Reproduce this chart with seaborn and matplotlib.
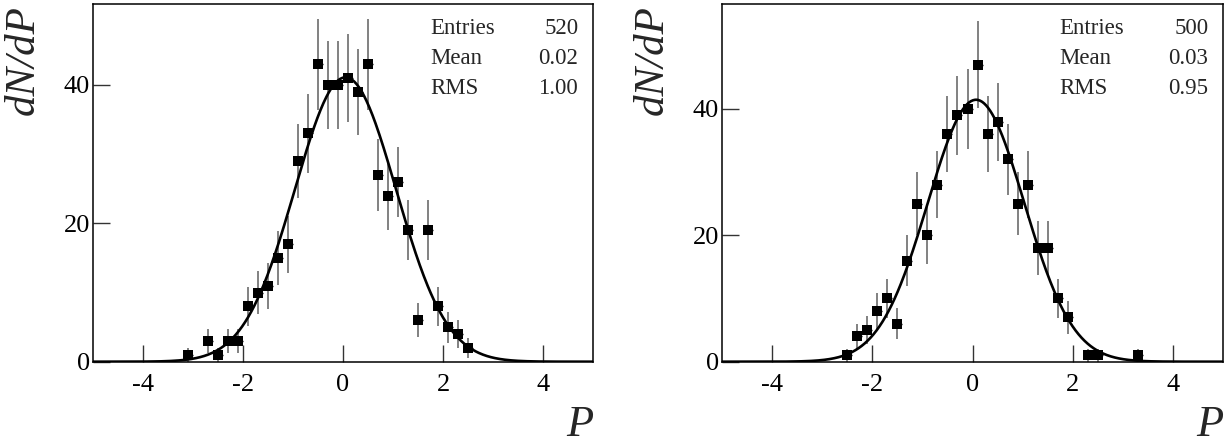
import numpy as np
import pandas as pd
import matplotlib
matplotlib.use("Agg")
import matplotlib.pyplot as plt
import seaborn as sns

left_x = [-3.1, -2.7, -2.5, -2.3, -2.1, -1.9, -1.7, -1.5, -1.3, -1.1, -0.9, -0.7, -0.5, -0.3,
          -0.1, 0.1, 0.3, 0.5, 0.7, 0.9, 1.1, 1.3, 1.5, 1.7, 1.9, 2.1, 2.3, 2.5]
left_n = [1, 3, 1, 3, 3, 8, 10, 11, 15, 17, 29, 33, 43, 40,
          40, 41, 39, 43, 27, 24, 26, 19, 6, 19, 8, 5, 4, 2]

right_x = [-2.5, -2.3, -2.1, -1.9, -1.7, -1.5, -1.3, -1.1, -0.9, -0.7, -0.5, -0.3, -0.1,
           0.1, 0.3, 0.5, 0.7, 0.9, 1.1, 1.3, 1.5, 1.7, 1.9, 2.3, 2.5, 3.3]
right_n = [1, 4, 5, 8, 10, 6, 16, 25, 20, 28, 36, 39, 40,
           47, 36, 38, 32, 25, 28, 18, 18, 10, 7, 1, 1, 1]

# parametros do ajuste gaussiano (constante, media, sigma)
left_fit = (41.1, 0.05, 1.01)
right_fit = (41.45, 0.07, 0.962)

left_stats = [("Entries", "520"), ("Mean", "0.02"), ("RMS", "1.00")]
right_stats = [("Entries", "500"), ("Mean", "0.03"), ("RMS", "0.95")]

x_ticks = [-4, -2, 0, 2, 4]
y_ticks = [0, 20, 40]
left_ymax = 51.7
right_ymax = 56.6

sns.set_theme(style="ticks")
plt.rcParams['font.family'] = ['Liberation Serif', 'DejaVu Serif']
plt.rcParams['axes.unicode_minus'] = False


def desenhar_painel(ax, xs, ns, fit, stats, ymax):
    df = pd.DataFrame({'P': xs, 'N': ns})
    df['err'] = np.sqrt(df['N'])

    # curva do ajuste
    grade = np.linspace(-5, 5, 500)
    const, media, sigma = fit
    curva = pd.DataFrame({'P': grade, 'f': const * np.exp(-0.5 * ((grade - media) / sigma) ** 2)})

    ax.errorbar(df['P'], df['N'], yerr=df['err'], fmt='none', ecolor='#777777',
                elinewidth=1.3, capsize=0, zorder=2)
    ax.errorbar(df['P'], df['N'], xerr=0.1, fmt='none', ecolor='black',
                elinewidth=1.0, capsize=0, zorder=2)
    sns.lineplot(data=curva, x='P', y='f', ax=ax, color='black', linewidth=1.9, zorder=3)
    sns.scatterplot(data=df, x='P', y='N', ax=ax, marker='s', s=44, color='black',
                    edgecolor='black', linewidth=0, zorder=4)

    ax.set_xlim(-5, 5)
    ax.set_ylim(0, ymax)
    ax.set_xticks(x_ticks)
    ax.set_yticks(y_ticks)
    ax.set_xlabel('')
    ax.set_ylabel('')
    ax.tick_params(axis='both', direction='in', length=12, width=1, color='#333333',
                   labelsize=19, labelcolor='black')
    ax.tick_params(axis='x', pad=9)
    ax.tick_params(axis='y', pad=2)
    for s in ax.spines.values():
        s.set_visible(True)
        s.set_linewidth(1.1)
        s.set_color('black')

    # caixa de estatisticas
    for i, (nome, valor) in enumerate(stats):
        y = 0.932 - i * 0.084
        ax.text(0.674, y, nome, transform=ax.transAxes, ha='left', va='center', fontsize=16.5)
        ax.text(0.970, y, valor, transform=ax.transAxes, ha='right', va='center', fontsize=16.5)


fig = plt.figure(figsize=(12.26, 4.45), dpi=100)
ax1 = fig.add_axes([0.0756, 0.1872, 0.4083, 0.8038])
ax2 = fig.add_axes([0.5887, 0.1872, 0.4091, 0.8038])

desenhar_painel(ax1, left_x, left_n, left_fit, left_stats, left_ymax)
desenhar_painel(ax2, right_x, right_n, right_fit, right_stats, right_ymax)

# rotulos dos eixos no estilo ROOT
for xl, xr in [(0.019, 0.4837), (0.532, 0.9976)]:
    fig.text(xl, 0.989, 'dN/dP', rotation=90, ha='center', va='top',
             fontsize=31, style='italic')
    fig.text(xr, 0.0, 'P', ha='right', va='bottom', fontsize=32, style='italic')

fig.savefig('out.png', dpi=100)
